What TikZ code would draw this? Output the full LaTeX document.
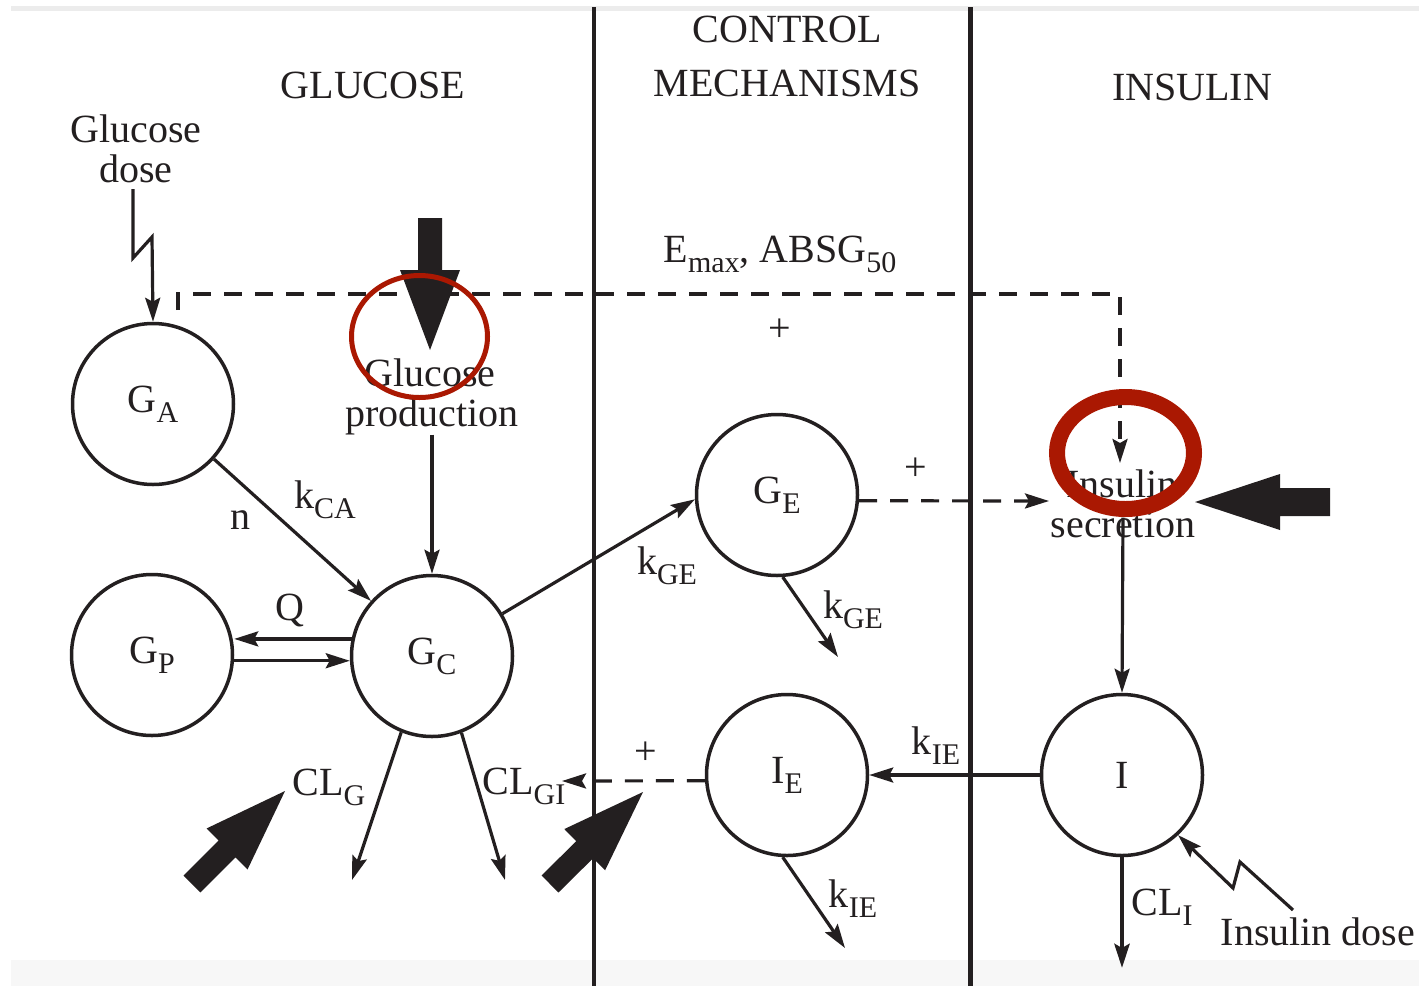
\documentclass[tikz,border=0pt]{standalone}
\usepackage{fontspec}
\setmainfont{Liberation Serif}
\usetikzlibrary{arrows.meta,calc}
\definecolor{ink}{RGB}{35,31,32}
\definecolor{redmark}{RGB}{170,24,2}
\definecolor{bandgray}{RGB}{247,247,247}
\definecolor{topgray}{RGB}{236,236,236}
\newcommand{\lowsub}[1]{\raisebox{-10pt}{\fontsize{30}{30}\selectfont #1}}
\newcommand{\fatarrow}[5]{%
  \coordinate (fa-b) at ($(#2)!#3!(#1)$);
  \fill[ink] ($(#1)!#5!90:(#2)$) -- ($(fa-b)!#5!90:(#2)$) -- ($(fa-b)!#4!90:(#2)$) -- (#2)
    -- ($(fa-b)!#4!-90:(#2)$) -- ($(fa-b)!#5!-90:(#2)$) -- ($(#1)!#5!-90:(#2)$) -- cycle;
}
\begin{document}
\begin{tikzpicture}[x=1pt,y=-1pt,
  every node/.style={font=\fontsize{40}{40}\selectfont, text=ink, inner sep=0pt},
  state/.style={circle, draw=ink, line width=3.5pt, minimum size=161pt, inner sep=0pt},
  lbl/.style={anchor=base},
  flow/.style={draw=ink, line width=3.2pt, -{Stealth[length=24pt,width=15pt,inset=4pt]}},
  dflow/.style={flow, dash pattern=on 18pt off 13pt},
  divider/.style={draw=ink, line width=4.5pt},
  redring/.style={draw=redmark}
]
\useasboundingbox (0,0) rectangle (1419,986);
% background bands
\fill[topgray] (11,6) rectangle (1419,11);
\fill[bandgray] (11,960) rectangle (1419,986);
% dividers
\coordinate (d1t) at (594,7);
\coordinate (d1b) at (594,986);
\coordinate (d2t) at (970.5,7);
\coordinate (d2b) at (970.5,986);
\draw[divider] (d1t) -- (d1b);
\draw[divider] (d2t) -- (d2b);

% headings
\node[lbl] (tglu) at (373,98) {GLUCOSE};
\node[lbl] (tctl1) at (787,42) {CONTROL};
\node[lbl] (tctl2) at (787,96) {MECHANISMS};
\node[lbl] (tins) at (1192,100) {INSULIN};

% compartments
\node[state] (GA) at (153,404) {G\lowsub{A}};
\node[state] (GP) at (152,655) {G\lowsub{P}};
\node[state] (GC) at (432,656) {G\lowsub{C}};
\node[state] (GE) at (777,495) {G\lowsub{E}};
\node[state] (IE) at (787,775) {I\lowsub{E}};
\node[state] (I)  at (1122,775) {I};

% text labels
\node[align=center, font=\fontsize{40}{40}\selectfont] (gdose) at (136,149) {Glucose\\dose};
\node[lbl] (emax) at (780,262) {E\lowsub{max}, ABSG\lowsub{50}};
\node (plus1) at (780,330) {+};
\node[lbl] (gp1) at (430,386) {Glucose};
\node[lbl] (gp2) at (432,426) {production};
\node[lbl] (is1) at (1122,497) {Insulin};
\node[lbl] (is2) at (1123,537) {secretion};
\node (plus2) at (916,469) {+};
\node[lbl] (ln) at (240,529) {n};
\node[lbl] (lkca) at (325,508) {k\lowsub{CA}};
\node[lbl] (lq) at (290,620) {Q};
\node[lbl] (lkge1) at (667,574) {k\lowsub{GE}};
\node[lbl] (lkge2) at (853,618) {k\lowsub{GE}};
\node[lbl] (lclg) at (329,795) {CL\lowsub{G}};
\node[lbl] (lclgi) at (524,794) {CL\lowsub{GI}};
\node (plus3) at (646,753) {+};
\node[lbl] (lkie1) at (936,754) {k\lowsub{IE}};
\node[lbl] (lkie2) at (853,907) {k\lowsub{IE}};
\node[lbl] (lcli) at (1162,915) {CL\lowsub{I}};
\node[lbl] (lidose) at (1318,945) {Insulin dose};

% free ends
\coordinate (gdz0) at (133,189);
\coordinate (gdz1) at (133,258);
\coordinate (gdz2) at (152,237);
\coordinate (dstart) at (178,310);
\coordinate (dcorner) at (1120,294);
\coordinate (sectop) at (1120,463);
\coordinate (secin) at (1049,501);
\coordinate (geout) at (838,657);
\coordinate (ieout) at (845,948);
\coordinate (gcout1) at (352,880);
\coordinate (gcout2) at (505,880);
\coordinate (clgitip) at (562,781);
\coordinate (iout) at (1122,968);
\coordinate (idz0) at (1293,910);
\coordinate (idz1) at (1240,862);
\coordinate (idz2) at (1233,888);

% connectors
\draw[flow] (gdz0) -- (gdz1) -- (gdz2) -- (GA.north);
\draw[dflow] (dstart) |- (dcorner) -- (sectop);
\draw[flow] (gp2.south) -- (GC.north);
\draw[flow] (GA) -- (GC);
\draw[flow] (GC.168.5) -- (GC.168.5 -| GP.east);
\draw[flow] (GP.-4) -- (GP.-4 -| GC.west);
\draw[flow] (GC.31.6) -- (GE.183);
\draw[flow] (GE.-86.5) -- (geout);
\draw[dflow] (GE.-4) -- (secin);
\draw[flow] ([yshift=20pt]is2.south) -- (I.north);
\draw[flow] (I.west) -- (IE.east);
\draw[dflow] (IE.184) -- (clgitip);
\draw[flow] (IE.-93) -- (ieout);
\draw[flow] (GC.-112) -- (gcout1);
\draw[flow] (GC.-69) -- (gcout2);
\draw[flow, line width=4.5pt] (I.south) -- (iout);
\draw[flow] (idz0) -- (idz1) -- (idz2) -- (I.-47);

% fat arrows
\coordinate (fa1t) at (430,218);  \coordinate (fa1p) at (430,350);
\coordinate (fa2t) at (1330,502); \coordinate (fa2p) at (1195,502);
\coordinate (fa3t) at (192,884);  \coordinate (fa3p) at (285,791);
\coordinate (fa4t) at (550,884);  \coordinate (fa4p) at (643,792);
\fatarrow{fa1t}{fa1p}{80pt}{30pt}{12pt}
\fatarrow{fa2t}{fa2p}{85pt}{28pt}{14pt}
\fatarrow{fa3t}{fa3p}{82pt}{29pt}{12pt}
\fatarrow{fa4t}{fa4p}{82pt}{29pt}{12pt}

% red highlight rings
\draw[redring, line width=5pt] (419.5,336.5) ellipse [x radius=68, y radius=61];
\draw[redring, line width=16pt] (1125.5,453) ellipse [x radius=68.5, y radius=56];
\end{tikzpicture}
\end{document}
